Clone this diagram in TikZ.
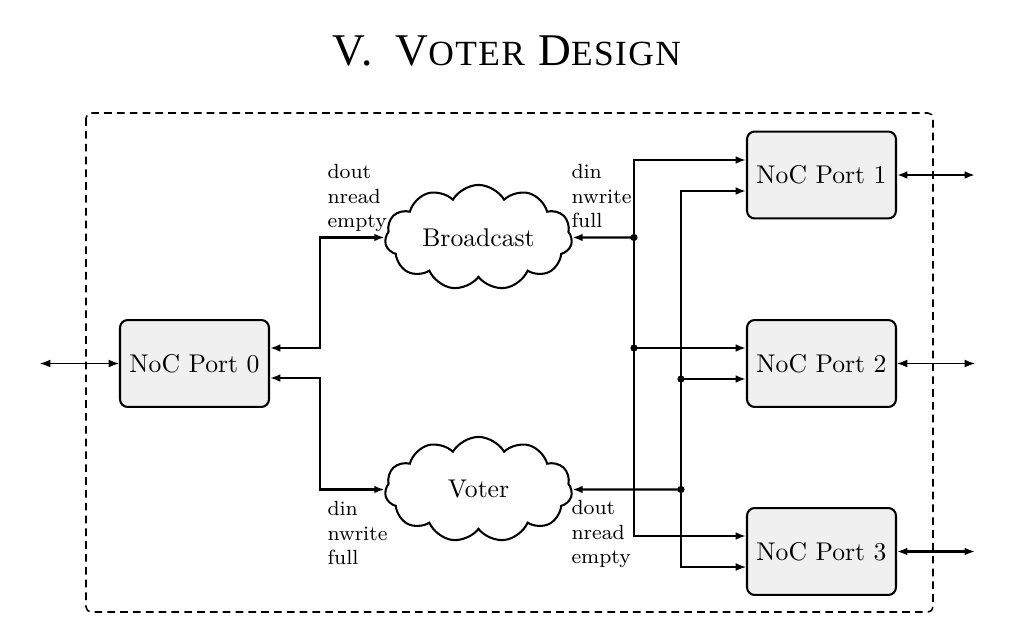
\documentclass[tikz,border=0pt]{standalone}
\usepackage{fontspec}
\newfontfamily\titlefont[LetterSpace=4]{Liberation Serif}
\usetikzlibrary{shapes.symbols,arrows.meta}
\newcommand\tsc[1]{{\fontsize{13.8}{14}\selectfont #1}}
\begin{document}
\begin{tikzpicture}[x=0.39pt,y=-0.39pt,
  port/.style={draw,line width=0.8pt,rounded corners=3pt,fill=black!6,minimum width=58.1pt,minimum height=33.9pt,inner sep=0pt,font=\fontsize{10}{12}\selectfont},
  fifo/.style={cloud,draw,line width=0.8pt,cloud puffs=11,cloud puff arc=120,minimum width=73pt,minimum height=41pt,inner sep=0pt,aspect=2,font=\fontsize{10}{12}\selectfont},
  lbl/.style={align=left,inner sep=0pt,font=\fontsize{8}{9.5}\selectfont,anchor=north west},
  tk/.style={line width=0.8pt},
  tn/.style={line width=0.4pt},
  tip/.style={-{Latex[length=4pt,width=3pt]}},
  dtip/.style={{Latex[length=4pt,width=3pt]}-{Latex[length=4pt,width=3pt]}},
  dot/.style={circle,fill,inner sep=0pt,minimum size=2.8pt}
]
\useasboundingbox (0,0) rectangle (1011,626);

% title
\node[anchor=base west,inner sep=0pt] (title) at (332,65.5)
  {\fontsize{17.7}{20}\titlefont V.\hspace{9pt}V\tsc{OTER} D\tsc{ESIGN}};

% frame
\draw[dashed,dash pattern=on 3pt off 2pt,line width=0.6pt,rounded corners=2pt] (86,113) rectangle (933,612);

% nodes
\node[port] (p0) at (194.5,363.5) {NoC Port 0};
\node[port] (p1) at (821.5,175) {NoC Port 1};
\node[port] (p2) at (821.5,363.5) {NoC Port 2};
\node[port] (p3) at (821.5,551.5) {NoC Port 3};
\node[fifo] (bc) at (478.5,237.5) {Broadcast};
\node[fifo] (vt) at (478.5,489.5) {Voter};

% labels
\node[lbl] (l1) at (327,164) {dout\\nread\\empty};
\node[lbl] (l2) at (571,164) {din\\nwrite\\full};
\node[lbl] (l3) at (327,501) {din\\nwrite\\full};
\node[lbl] (l4) at (571,500) {dout\\nread\\empty};

% left side
\coordinate (ext0) at (40,363.5);
\draw[tn,dtip] (ext0) -- (p0.west);
\coordinate (a1) at (320,348);
\coordinate (a2) at (320,378);
\draw[tk,dtip] (p0.east |- a1) -- (a1) |- (bc.west);
\draw[tk,dtip] (p0.east |- a2) -- (a2) |- (vt.west);

% bus 1
\coordinate (b0) at (634,160);
\coordinate (b1) at (634,237.5);
\coordinate (b2) at (634,348);
\coordinate (b3) at (634,536);
\draw[tk,tip] (b1) -- (bc.east);
\draw[tk,tip] (b1) -- (b0) -- (p1.west |- b0);
\draw[tn] (b1) -- (b2);
\draw[tk,tip] (b2) -- (p2.west |- b2);
\draw[tk,tip] (b2) -- (b3) -- (p3.west |- b3);

% bus 2
\coordinate (c0) at (681,191);
\coordinate (c1) at (681,379);
\coordinate (c2) at (681,489.5);
\coordinate (c3) at (681,567);
\draw[tk,tip] (c2) -- (vt.east);
\draw[tk,tip] (c2) -- (c0) -- (p1.west |- c0);
\draw[tk,tip] (c1) -- (p2.west |- c1);
\draw[tn,tip] (c2) -- (c3) -- (p3.west |- c3);

\node[dot] at (b1) {};
\node[dot] at (b2) {};
\node[dot] at (c1) {};
\node[dot] at (c2) {};

% right externals
\coordinate (e1) at (975,175);
\coordinate (e2) at (975,363.5);
\coordinate (e3) at (975,551.5);
\draw[tk,dtip] (p1.east) -- (e1);
\draw[tn,dtip] (p2.east) -- (e2);
\draw[tk,dtip] (p3.east) -- (e3);
\end{tikzpicture}
\end{document}
